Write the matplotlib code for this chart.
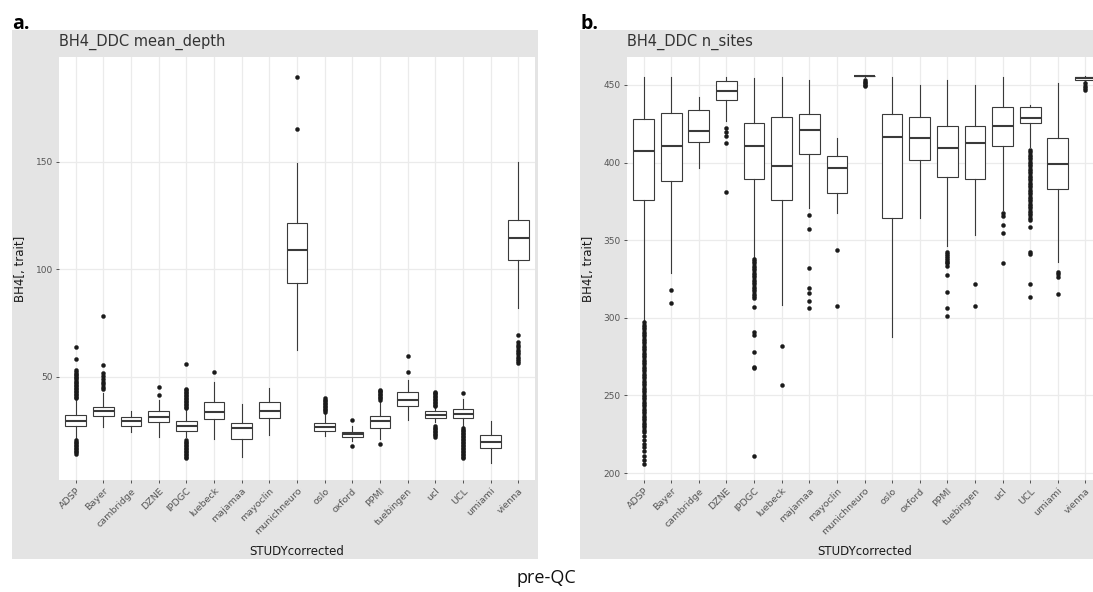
import matplotlib
matplotlib.use("Agg")
import matplotlib.pyplot as plt
from matplotlib.patches import Rectangle

categories = ["ADSP", "Bayer", "cambridge", "DZNE", "IPDGC", "luebeck", "majamaa",
              "mayoclin", "munichneuro", "oslo", "oxford", "PPMI", "tuebingen",
              "ucl", "UCL", "umiami", "vienna"]

# ---- panel a: mean_depth ----
a_whislo = [21.5, 26.9, 24.2, 22.2, 21.9, 21.0, 12.9, 23.0, 62.6, 22.6, 20.4, 21.0, 30.0, 29.0, 26.9, 10.2, 82.0]
a_q1     = [27.0, 32.0, 27.2, 28.9, 25.0, 30.3, 21.2, 30.8, 93.9, 25.0, 22.0, 26.4, 36.7, 30.8, 30.8, 16.9, 104.4]
a_med    = [29.7, 34.2, 29.7, 31.6, 27.4, 33.9, 26.1, 34.2, 109.1, 26.6, 23.3, 29.5, 39.3, 32.4, 32.9, 20.0, 114.8]
a_q3     = [32.3, 36.2, 31.5, 34.2, 29.7, 38.2, 28.4, 38.6, 121.8, 28.4, 24.6, 32.0, 42.9, 34.2, 35.0, 22.8, 123.0]
a_whishi = [39.5, 42.5, 34.3, 39.3, 34.5, 47.8, 37.5, 44.8, 149.5, 33.3, 27.0, 38.5, 48.6, 35.8, 39.6, 29.7, 149.8]
a_out = [
    [40.2, 40.9, 41.6, 42.3, 43.0, 43.7, 44.4, 45.1, 45.8, 46.5, 47.2, 47.9, 48.6, 49.3, 50.0,
     50.8, 51.6, 52.4, 53.3, 58.5, 63.8, 20.6, 19.9, 19.2, 18.5, 17.8, 17.1, 16.4, 15.7, 15.0, 14.4],
    [44.3, 45.5, 46.6, 47.6, 49.0, 50.3, 52.0, 55.4, 78.5],
    [],
    [41.6, 45.2],
    [35.4, 36.1, 36.8, 37.5, 38.2, 38.9, 39.6, 40.3, 41.0, 41.7, 42.4, 43.1, 43.8, 44.6, 55.9,
     20.7, 20.0, 19.3, 18.6, 17.9, 17.2, 16.5, 15.8, 15.1, 14.4, 13.7, 13.0, 12.3],
    [52.5],
    [],
    [],
    [165.2, 189.4],
    [33.9, 34.6, 35.3, 36.0, 36.7, 37.4, 38.1, 38.8, 39.5, 40.3],
    [30.2, 18.0],
    [39.3, 40.0, 40.7, 41.4, 42.1, 42.8, 43.5, 44.1, 18.7],
    [52.2, 59.9],
    [36.3, 37.0, 37.7, 38.4, 39.1, 39.8, 40.5, 41.2, 41.9, 42.6, 43.2,
     27.0, 26.3, 25.6, 24.9, 24.2, 23.5, 22.8, 22.1],
    [42.7, 26.1, 25.4, 24.7, 24.0, 23.3, 22.6, 21.9, 21.2, 20.5, 19.8, 19.1, 18.4, 17.7, 17.0,
     16.3, 15.6, 14.9, 14.2, 13.5, 12.8, 12.2],
    [],
    [69.5, 66.5, 65.0, 64.0, 62.5, 61.5, 60.5, 59.5, 58.5, 57.5, 56.7],
]

# ---- panel b: n_sites ----
b_whislo = [298.0, 329.0, 396.3, 427.0, 339.4, 308.2, 370.5, 367.3, 455.0, 287.8, 364.1, 346.5, 353.4, 369.5, 410.3, 336.2, 452.5]
b_q1     = [375.9, 388.1, 413.5, 440.3, 389.4, 375.9, 405.5, 380.2, 455.5, 364.1, 401.9, 390.9, 389.4, 410.9, 425.7, 383.0, 453.5]
b_med    = [407.5, 410.9, 420.4, 446.3, 410.9, 398.0, 421.0, 396.7, 456.0, 416.7, 416.0, 409.6, 412.4, 423.8, 428.4, 398.9, 454.5]
b_q3     = [428.1, 431.8, 433.9, 452.6, 425.7, 429.6, 431.1, 404.5, 456.0, 431.1, 429.6, 423.8, 423.8, 436.0, 436.0, 416.0, 455.0]
b_whishi = [455.4, 455.4, 442.5, 455.4, 454.3, 455.4, 453.2, 415.7, 456.0, 455.4, 450.0, 453.2, 450.0, 455.4, 437.0, 451.1, 455.5]
b_out = [
    [297, 295.5, 294, 292.5, 291, 289.5, 288, 286.5, 285, 283.5, 282, 280.5, 279, 277.5, 276,
     274.5, 273, 271.5, 270, 268.5, 267, 265.5, 264, 262.5, 261, 259.5, 258, 256.5, 255, 253.5,
     252, 250.5, 249, 247.5, 246, 244.5, 243, 241.5, 240, 238.5, 237, 235.5, 234, 232.5, 231,
     229.5, 228, 226.5, 224, 221.5, 219, 217, 214.5, 211, 208.5, 206],
    [317.9, 309.7],
    [],
    [422.5, 419.9, 417.3, 412.4, 380.8],
    [338, 336.5, 335, 333.5, 332, 330.5, 329, 327.5, 326, 324.5, 323, 321.5, 320, 318.5, 317,
     315.5, 314, 312.6, 306.8, 291.0, 288.9, 278.2, 268.5, 267.5, 211.0],
    [282.0, 256.7],
    [366.0, 357.5, 332.0, 319.0, 316.0, 311.0, 306.0],
    [343.5, 307.7],
    [453.5, 452.0, 451.0, 450.0, 449.0],
    [],
    [],
    [342.6, 341.2, 339.8, 338.5, 337.3, 336.2, 335.2, 333.4, 327.6, 316.8, 306.1, 301.4],
    [321.8, 307.8],
    [367.3, 365.8, 359.8, 354.4, 335.1],
    [408, 406.5, 405, 403.5, 402, 400.5, 399, 397.5, 396, 394.5, 393, 391.5, 390, 388.5, 387,
     385.5, 384, 382.5, 381, 379.5, 378, 376.5, 375, 373.5, 372, 370.5, 369, 367.5, 366, 364.5,
     363, 358.7, 342.2, 341.1, 321.6, 313.6],
    [329.3, 328.0, 326.5, 315.3],
    [451.0, 449.5, 448.0, 447.0],
]

a_yticks = [50, 100, 150]
b_yticks = [200, 250, 300, 350, 400, 450]

W, H = 1093, 592
fig = plt.figure(figsize=(W / 100, H / 100), dpi=100)
fig.patch.set_facecolor("white")

GRAY = "#E4E4E4"
LINE = "#3A3A3A"


def px(x0, y0, x1, y1):
    return [x0 / W, 1 - y1 / H, (x1 - x0) / W, (y1 - y0) / H]


def make_stats(lo, q1, med, q3, hi, out):
    return [dict(whislo=lo[i], q1=q1[i], med=med[i], q3=q3[i], whishi=hi[i],
                 fliers=out[i], label=categories[i]) for i in range(len(categories))]


def draw_panel(gx0, ax0, ax1, stats, ylim, yticks, title, letter):
    fig.patches.append(Rectangle((gx0 / W, 1 - 559 / H), 526 / W, 529 / H,
                                 transform=fig.transFigure, facecolor=GRAY,
                                 edgecolor="none", zorder=-10))
    ax = fig.add_axes(px(ax0, 57, ax1, 480))
    ax.set_facecolor("white")
    pos = list(range(1, len(categories) + 1))
    ax.bxp(stats, positions=pos, widths=0.75, patch_artist=True, showcaps=False,
           boxprops=dict(facecolor="white", edgecolor=LINE, linewidth=0.8),
           whiskerprops=dict(color=LINE, linewidth=0.8),
           medianprops=dict(color=LINE, linewidth=1.5),
           flierprops=dict(marker="o", markerfacecolor="#1a1a1a",
                           markeredgecolor="#1a1a1a", markersize=2.9, markeredgewidth=0.3))
    ax.set_xlim(0.4, len(categories) + 0.6)
    ax.set_ylim(*ylim)
    ax.set_xticks(pos)
    ax.set_xticklabels(categories, rotation=45, ha="right", va="top",
                       rotation_mode="anchor")
    ax.set_yticks(yticks)
    ax.grid(True, color="#EBEBEB", linewidth=0.9)
    ax.set_axisbelow(True)
    for s in ax.spines.values():
        s.set_visible(False)
    ax.tick_params(length=2.5, width=0.6, color=LINE, labelcolor="#555555",
                   labelsize=6.5, pad=2)
    ax.tick_params(axis="x", labelsize=6.8)
    ax.set_xlabel("STUDYcorrected", fontsize=8.5, color="#1A1A1A", labelpad=6)
    ax.set_ylabel("BH4[, trait]", fontsize=8.5, color="#1A1A1A", labelpad=6)
    fig.text(ax0 / W, 1 - 42 / H, title, fontsize=10.5, color="#333333",
             ha="left", va="center")
    fig.text((gx0 + 0.5) / W, 1 - 24 / H, letter, fontsize=14, fontweight="bold",
             family="Open Sans", ha="left", va="center")
    return ax


ax_a = draw_panel(12, 59, 535,
                  make_stats(a_whislo, a_q1, a_med, a_q3, a_whishi, a_out),
                  (2.1, 198.8), a_yticks, "BH4_DDC mean_depth", "a.")
ax_b = draw_panel(580, 627, 1102,
                  make_stats(b_whislo, b_q1, b_med, b_q3, b_whishi, b_out),
                  (195.5, 468.0), b_yticks, "BH4_DDC n_sites", "b.")

fig.text(546 / W, 1 - 578 / H, "pre-QC", fontsize=13, family="Open Sans",
         ha="center", va="center", color="#111111")

fig.savefig("out.png", dpi=100, facecolor="white")
